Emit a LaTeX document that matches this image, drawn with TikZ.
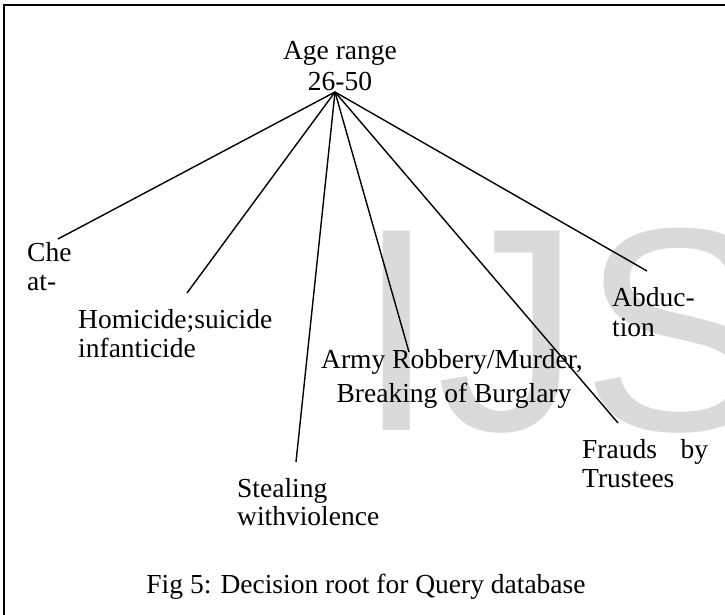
\documentclass[tikz,border=0pt]{standalone}
\usepackage{fontspec}
\setmainfont{Liberation Serif}
\newfontfamily\wmfont{Liberation Sans}
\definecolor{wmgray}{RGB}{218,218,218}
\begin{document}
\begin{tikzpicture}[x=1pt,y=-1pt,
  lbl/.style={anchor=base west,inner sep=0pt,font=\fontsize{27.5}{29}\selectfont},
  clbl/.style={anchor=base,inner sep=0pt,font=\fontsize{27.5}{29}\selectfont},
  edge/.style={line width=1.4pt,black}]
\useasboundingbox (0,0) rectangle (725,615);
% watermark
\begin{scope}
\clip (0,0) rectangle (725,615);
\node[anchor=base west,inner sep=0pt,text=wmgray,font=\wmfont\fontsize{290}{290}\selectfont] (wm) at (356,430) {IJS};
\end{scope}
% frame
\draw[line width=2pt] (4,615) -- (4,5) -- (725,5);
% root
\node[clbl] (root1) at (340,60) {Age range};
\node[clbl] (root2) at (340,91) {26-50};
\coordinate (apex) at (335,92);
% end points
\coordinate (eChe) at (58,239);
\coordinate (eHom) at (187,293);
\coordinate (eSte) at (296,462);
\coordinate (eArm) at (409,352);
\coordinate (eFra) at (618,423);
\coordinate (eAbd) at (647,271);
% labels
\node[lbl] (che1) at (27,261) {Che};
\node[lbl] (che2) at (27,290) {at-};
\node[lbl] (hom1) at (78,328) {Homicide;suicide};
\node[lbl] (hom2) at (78,357) {infanticide};
\node[clbl] (arm1) at (452,368) {Army Robbery/Murder,};
\node[clbl] (arm2) at (454,402) {Breaking of Burglary};
\node[lbl] (abd1) at (612,306) {Abduc-};
\node[lbl] (abd2) at (612,336) {tion};
\node[lbl] (fra1) at (582,458) {\hbox to 126pt{Frauds\hfill by}};
\node[lbl] (fra2) at (582,487) {Trustees};
\node[lbl] (ste1) at (237,497) {Stealing};
\node[lbl] (ste2) at (237,525) {withviolence};
\node[clbl] (cap) at (366,593) {Fig 5: Decision root for Query database};
% connectors
\foreach \e in {eChe,eHom,eSte,eArm,eFra,eAbd}
  \draw[edge] (apex) -- (\e);
\end{tikzpicture}
\end{document}
